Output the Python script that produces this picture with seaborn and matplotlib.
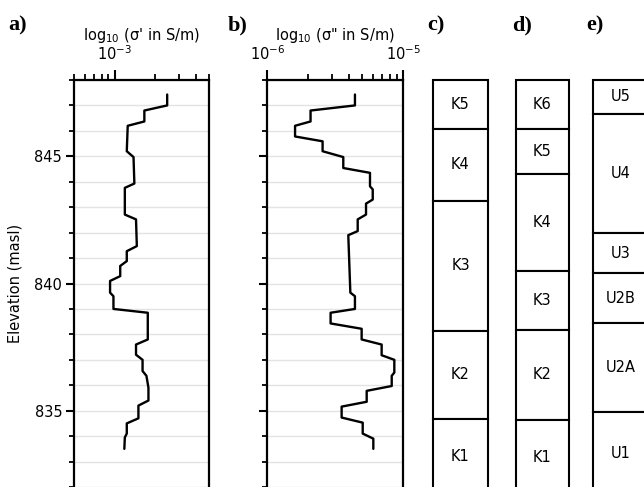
import numpy as np
import pandas as pd
import matplotlib
matplotlib.use("Agg")
import matplotlib.pyplot as plt
import seaborn as sns
from matplotlib.ticker import MultipleLocator, NullFormatter, LogLocator

# ---------------- data ----------------
elev_a = [847.43, 847.0, 846.8, 846.37, 846.2, 845.2, 844.97, 843.93, 843.76, 842.71,
          842.52, 841.47, 841.27, 840.88, 840.69, 840.29, 840.1, 839.64, 839.5, 839.0,
          838.85, 837.8, 837.6, 837.2, 837.0, 836.56, 836.37, 835.9, 835.4, 835.2,
          834.7, 834.5, 834.1, 833.95, 833.5]
sigma_real = [2.45e-3, 2.45e-3, 1.66e-3, 1.66e-3, 1.25e-3, 1.23e-3, 1.38e-3, 1.40e-3, 1.19e-3, 1.19e-3,
              1.44e-3, 1.46e-3, 1.23e-3, 1.23e-3, 1.10e-3, 1.10e-3, 9.25e-4, 9.25e-4, 9.8e-4, 9.8e-4,
              1.76e-3, 1.76e-3, 1.44e-3, 1.44e-3, 1.61e-3, 1.61e-3, 1.72e-3, 1.78e-3, 1.78e-3, 1.50e-3,
              1.50e-3, 1.23e-3, 1.23e-3, 1.19e-3, 1.18e-3]

elev_b = [847.43, 847.0, 846.8, 846.37, 846.2, 845.78, 845.59, 845.2, 844.97, 844.54,
          844.35, 843.82, 843.7, 843.3, 843.14, 842.71, 842.52, 842.06, 841.9, 839.64,
          839.5, 839.0, 838.85, 838.43, 838.22, 837.8, 837.6, 837.18, 837.0, 836.5,
          836.37, 835.97, 835.78, 835.35, 835.16, 834.73, 834.53, 834.1, 833.9, 833.5]
sigma_imag = [4.41e-6, 4.41e-6, 2.08e-6, 2.08e-6, 1.60e-6, 1.60e-6, 2.55e-6, 2.55e-6, 3.62e-6, 3.62e-6,
              5.69e-6, 5.69e-6, 5.96e-6, 5.96e-6, 5.32e-6, 5.32e-6, 4.62e-6, 4.62e-6, 3.94e-6, 4.08e-6,
              4.41e-6, 4.41e-6, 2.92e-6, 2.92e-6, 4.94e-6, 4.94e-6, 6.93e-6, 6.93e-6, 8.59e-6, 8.59e-6,
              8.22e-6, 8.22e-6, 5.38e-6, 5.38e-6, 3.52e-6, 3.52e-6, 5.03e-6, 5.03e-6, 6.02e-6, 6.02e-6]

c_labels = ["K5", "K4", "K3", "K2", "K1"]
c_bounds = [848.0, 846.09, 843.24, 838.15, 834.69, 831.0]
d_labels = ["K6", "K5", "K4", "K3", "K2", "K1"]
d_bounds = [848.0, 846.09, 844.29, 840.5, 838.18, 834.65, 831.0]
e_labels = ["U5", "U4", "U3", "U2B", "U2A", "U1"]
e_bounds = [848.0, 846.67, 841.97, 840.4, 838.44, 834.93, 831.0]

panel_letters = ["a)", "b)", "c)", "d)", "e)"]
titles = ["log$_{10}$ (\u03c3' in S/m)", 'log$_{10}$ (\u03c3" in S/m)']
ylabel = "Elevation (masl)"

# ---------------- style ----------------
sns.set_style("white")
plt.rcParams["font.family"] = ["DejaVu Sans"]
plt.rcParams["mathtext.default"] = "regular"
plt.rcParams["text.color"] = "black"
plt.rcParams["axes.labelcolor"] = "black"
plt.rcParams["xtick.color"] = "black"
plt.rcParams["ytick.color"] = "black"
FS = 10.5

fig = plt.figure(figsize=(6.44, 4.87), dpi=100)
W, H = 644.0, 487.0
top_px = 80.0
ax_h = (H - top_px) / H
YMIN, YMAX = 832, 848

ax_a = fig.add_axes([74 / W, 0, 135 / W, ax_h])
ax_b = fig.add_axes([267.3 / W, 0, 136 / W, ax_h])
ax_c = fig.add_axes([433.3 / W, 0, 54.4 / W, ax_h])
ax_d = fig.add_axes([515.7 / W, 0, 53.3 / W, ax_h])
ax_e = fig.add_axes([593.3 / W, 0, 54.0 / W, ax_h])

df_a = pd.DataFrame({"elev": elev_a, "sigma": sigma_real})
df_b = pd.DataFrame({"elev": elev_b, "sigma": sigma_imag})

for ax, df, xlim, title in [(ax_a, df_a, (5e-4, 5e-3), titles[0]),
                            (ax_b, df_b, (1e-6, 1e-5), titles[1])]:
    sns.lineplot(data=df, x="sigma", y="elev", orient="y", estimator=None,
                 color="black", linewidth=1.7, ax=ax)
    ax.set_xscale("log")
    ax.set_xlim(*xlim)
    ax.set_ylim(YMIN, YMAX)
    ax.xaxis.tick_top()
    ax.xaxis.set_major_locator(LogLocator(base=10, numticks=10))
    ax.xaxis.set_minor_locator(LogLocator(base=10, subs=np.arange(2, 10), numticks=10))
    ax.xaxis.set_minor_formatter(NullFormatter())
    ax.yaxis.set_major_locator(MultipleLocator(5))
    ax.yaxis.set_minor_locator(MultipleLocator(1))
    ax.grid(True, axis="y", which="both", color="#e3e3e3", linewidth=1.0)
    ax.set_axisbelow(True)
    ax.spines["bottom"].set_visible(False)
    for s in ["top", "left", "right"]:
        ax.spines[s].set_linewidth(1.6)
        ax.spines[s].set_color("black")
    ax.tick_params(axis="x", which="major", direction="out", length=7, width=1.5,
                   labelsize=FS, pad=5, top=True, bottom=False)
    ax.tick_params(axis="x", which="minor", direction="out", length=4, width=1.3,
                   top=True, bottom=False)
    ax.tick_params(axis="y", which="major", direction="out", length=5.5, width=1.5,
                   labelsize=FS, pad=3, left=True)
    ax.tick_params(axis="y", which="minor", direction="out", length=3.5, width=1.3,
                   left=True)
    ax.set_xlabel("")
    ax.set_ylabel("")
    ax.text(0.5, 1 + 40 / (H - top_px), title, transform=ax.transAxes,
            ha="center", va="baseline", fontsize=FS)

ax_b.tick_params(axis="y", labelleft=False)
ax_a.set_ylabel(ylabel, fontsize=FS)
ax_a.yaxis.set_label_coords(-0.38, 0.5)

for ax, labels, bounds in [(ax_c, c_labels, c_bounds), (ax_d, d_labels, d_bounds),
                           (ax_e, e_labels, e_bounds)]:
    tops = np.array(bounds[:-1])
    bots = np.array(bounds[1:])
    ax.bar(x=[0.5] * len(labels), height=tops - bots, bottom=bots, width=1.0,
           color="white", edgecolor="black", linewidth=1.5, clip_on=False)
    ax.set_xlim(0, 1)
    ax.set_ylim(YMIN, YMAX)
    ax.axis("off")
    for lab, t, b in zip(labels, tops, bots):
        # lowest unit runs off the bottom of the figure
        vis_b = max(b, YMIN - 0.3)
        ax.text(0.5, (t + vis_b) / 2, lab, ha="center", va="center", fontsize=FS)

letter_x = [8, 228, 427, 512, 586]
for lx, lt in zip(letter_x, panel_letters):
    fig.text(lx / W, 1 - 30 / H, lt, fontfamily="Liberation Serif", fontweight="bold",
             fontsize=16, ha="left", va="baseline")

fig.savefig("out.png", dpi=100)
